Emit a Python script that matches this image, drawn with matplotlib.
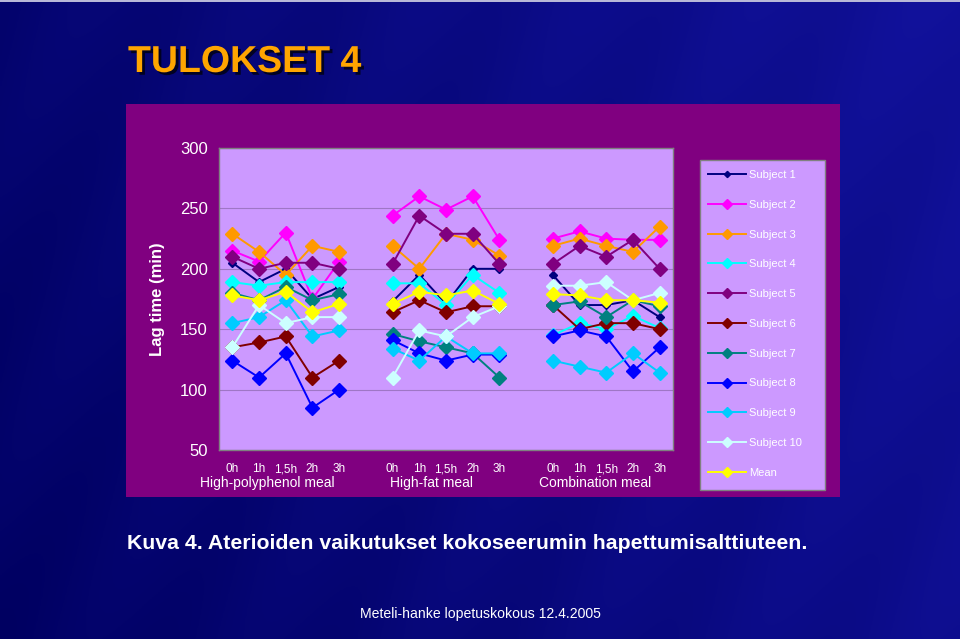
import numpy as np
import matplotlib
matplotlib.use("Agg")
import matplotlib.pyplot as plt
from matplotlib.patches import Rectangle
import matplotlib.patheffects as pe

W, H = 960, 642

# categories
groups = ["High-polyphenol meal", "High-fat meal", "Combination meal"]
times = ["0h", "1h", "1,5h", "2h", "3h"]

# lag time (min), 5 time points per meal: polyphenol | high-fat | combination
subject1 = [205, 189, 200, 175, 185,  173, 195, 171, 200, 200,  195, 170, 170, 174, 160]
subject2 = [215, 206, 230, 175, 206,  244, 260, 249, 260, 224,  225, 231, 225, 224, 224]
subject3 = [229, 214, 195, 219, 214,  219, 200, 229, 224, 211,  219, 225, 219, 214, 235]
subject4 = [189, 186, 189, 189, 189,  188, 188, 170, 195, 180,  145, 155, 150, 161, 151]
subject5 = [210, 200, 205, 205, 200,  204, 244, 229, 229, 204,  204, 219, 210, 224, 200]
subject6 = [135, 139, 144, 110, 124,  164, 174, 164, 169, 169,  170, 150, 155, 155, 150]
subject7 = [180, 174, 185, 174, 179,  146, 140, 135, 130, 110,  170, 173, 160, 174, 169]
subject8 = [124, 110, 130, 85, 100,   141, 130, 124, 129, 129,  144, 149, 144, 115, 135]
subject9 = [155, 160, 174, 144, 149,  134, 124, 144, 130, 130,  124, 119, 114, 130, 114]
subject10 = [135, 170, 155, 160, 160, 110, 149, 144, 160, 169,  186, 186, 189, 174, 180]
mean = [178, 174, 181, 164, 171,      171, 181, 178, 182, 171,  179, 178, 174, 174, 172]

labels = ["Subject 1", "Subject 2", "Subject 3", "Subject 4", "Subject 5",
          "Subject 6", "Subject 7", "Subject 8", "Subject 9", "Subject 10", "Mean"]
values = [subject1, subject2, subject3, subject4, subject5, subject6,
          subject7, subject8, subject9, subject10, mean]
colors = ["#000080", "#FF00FF", "#FF9900", "#00FFFF", "#800080", "#800000",
          "#008080", "#0000FF", "#00CCFF", "#CCFFFF", "#FFFF00"]

n = len(times)
# group labels sit a bit left of their group centre in the original
group_label_shift = [-0.7, -0.56, -0.42]


def spread(vals):
    # put a gap (NaN) between the meals so the lines break
    out = []
    for g in range(len(groups)):
        out += list(vals[g * n:(g + 1) * n])
        if g < len(groups) - 1:
            out.append(np.nan)
    return np.array(out, dtype=float)


xs = np.arange(len(groups) * (n + 1) - 1)

plt.rcParams["font.family"] = ["Liberation Sans", "DejaVu Sans"]

fig = plt.figure(figsize=(W / 100, H / 100), dpi=100)

# slide background
bg = fig.add_axes([0, 0, 1, 1])
gx = np.linspace(0, 1, 400)
gy = np.linspace(0, 1, 270)
X, Y = np.meshgrid(gx, gy)
t = 0.55 * X + 0.15 * (1 - Y) + 0.08 * np.sin(18 * (X + 0.35 * Y)) ** 2
c0 = np.array([0.0, 0.0, 0.38])
c1 = np.array([0.09, 0.09, 0.68])
img = c0[None, None, :] + (c1 - c0)[None, None, :] * np.clip(t, 0, 1)[:, :, None]
bg.imshow(img, extent=[0, 1, 0, 1], aspect="auto", origin="upper")
bg.set_axis_off()

# chart area
fig.patches.append(Rectangle((126 / W, 1 - 497 / H), 714 / W, 393 / H,
                             transform=fig.transFigure, facecolor="#800080",
                             edgecolor="none", zorder=1))
# legend box
fig.patches.append(Rectangle((700 / W, 1 - 490 / H), 125 / W, 330 / H,
                             transform=fig.transFigure, facecolor="#CC99FF",
                             edgecolor="#808080", linewidth=1, zorder=2))
# thin light strips at the slide edges
fig.patches.append(Rectangle((0, 0), 1, 3 / H, transform=fig.transFigure,
                             facecolor="white", edgecolor="none", zorder=2))
fig.patches.append(Rectangle((0, 1 - 2 / H), 1, 2 / H, transform=fig.transFigure,
                             facecolor="#B8B8D8", edgecolor="none", zorder=2))

ax = fig.add_axes([219 / W, 1 - 450 / H, 454 / W, 302 / H])
ax.set_facecolor("#CC99FF")
ax.set_zorder(3)

handles = []
for lab, vals, col in zip(labels, values, colors):
    ms = 4.5 if lab == "Subject 1" else 7
    h, = ax.plot(xs, spread(vals), color=col, linewidth=1.4, marker="D",
                 markersize=ms, markeredgecolor=col, label=lab)
    handles.append(h)

ax.set_xlim(-0.5, xs[-1] + 0.5)
ax.set_ylim(50, 300)
ax.set_yticks([50, 100, 150, 200, 250, 300])
ax.yaxis.grid(True, color="#9F76C6", linewidth=0.8)
ax.set_axisbelow(True)
ax.set_xticks([])
ax.tick_params(axis="y", length=0, pad=8, labelcolor="white", labelsize=12)
for side in ["left", "top", "bottom", "right"]:
    ax.spines[side].set_color("#808080")
    ax.spines[side].set_linewidth(1)

xtr = ax.get_xaxis_transform()
for g, name in enumerate(groups):
    for i, tm in enumerate(times):
        ax.text(g * (n + 1) + i, -0.0745, tm, transform=xtr, ha="center",
                va="baseline", color="white", fontsize=8.5)
    ax.text(g * (n + 1) + (n - 1) / 2 + group_label_shift[g], -0.123, name,
            transform=xtr, ha="center", va="baseline", color="white", fontsize=10)

ax.set_ylabel("Lag time (min)", color="white", fontsize=12, fontweight="bold",
              labelpad=11)

fig.legend(handles, labels, loc="upper left",
           bbox_to_anchor=(708 / W, 1 - 170 / H), frameon=False, fontsize=8,
           labelcolor="white", handlelength=3.4, handletextpad=0.3,
           labelspacing=1.78, borderaxespad=0, borderpad=0, markerscale=0.7)

# slide texts
fig.text(128 / W, 1 - 72 / H, "TULOKSET 4", color="#FFA500", fontsize=27,
         fontweight="bold", va="baseline", ha="left",
         path_effects=[pe.withSimplePatchShadow(offset=(2, -2), shadow_rgbFace="black",
                                                alpha=0.7)])
fig.text(127 / W, 1 - 549 / H,
         "Kuva 4. Aterioiden vaikutukset kokoseerumin hapettumisalttiuteen.",
         color="white", fontsize=15.3, fontweight="bold",
         va="baseline", ha="left")
fig.text(480 / W, 1 - 614 / H, "Meteli-hanke lopetuskokous 12.4.2005",
         color="white", fontsize=10.1, va="center", ha="center")

fig.savefig("out.png", dpi=100)
